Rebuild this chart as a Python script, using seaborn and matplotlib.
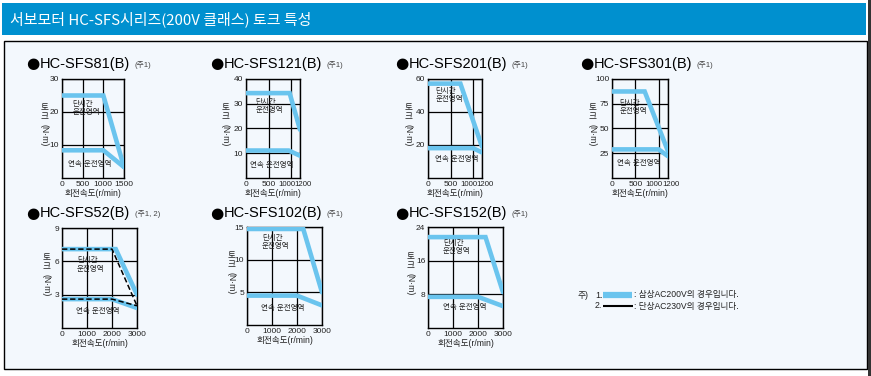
import matplotlib
matplotlib.use("Agg")
import matplotlib.pyplot as plt
import matplotlib.transforms as mtransforms
import seaborn as sns
import pandas as pd
from matplotlib.patches import Rectangle
from matplotlib.lines import Line2D

sns.set_style("white")
plt.rcParams['font.family'] = ['Liberation Sans', 'Noto Sans CJK KR', 'DejaVu Sans']

# ---------------- data ----------------
header_title = "서보모터 HC-SFS시리즈(200V 클래스) 토크 특성"
models = ["HC-SFS81(B)", "HC-SFS121(B)", "HC-SFS201(B)", "HC-SFS301(B)",
          "HC-SFS52(B)", "HC-SFS102(B)", "HC-SFS152(B)"]
notes = ["(주1)", "(주1)", "(주1)", "(주1)", "(주1, 2)", "(주1)", "(주1)"]

sfs81_short_speed = [0, 1000, 1500]
sfs81_short_torque = [25.0, 25.0, 3.3]
sfs81_cont_speed = [0, 1000, 1500]
sfs81_cont_torque = [8.4, 8.4, 3.3]

sfs121_short_speed = [0, 970, 1200]
sfs121_short_torque = [34.3, 34.3, 19.5]
sfs121_cont_speed = [0, 950, 1200]
sfs121_cont_torque = [11.1, 11.1, 9.0]

sfs201_short_speed = [0, 720, 1200]
sfs201_short_torque = [57.2, 57.2, 19.0]
sfs201_cont_speed = [0, 1000, 1200]
sfs201_cont_torque = [18.1, 18.1, 15.5]

sfs301_short_speed = [0, 700, 1200]
sfs301_short_torque = [87.4, 87.4, 27.0]
sfs301_cont_speed = [0, 1000, 1200]
sfs301_cont_torque = [28.9, 28.9, 22.0]

sfs52_short_speed = [0, 2150, 3000]
sfs52_short_torque = [7.1, 7.1, 3.0]
sfs52_cont_speed = [0, 2000, 3000]
sfs52_cont_torque = [2.6, 2.6, 1.8]
sfs52_short1ph_speed = [0, 2000, 3000]
sfs52_short1ph_torque = [7.1, 7.1, 2.0]
sfs52_cont1ph_speed = [0, 2000, 3000]
sfs52_cont1ph_torque = [2.6, 2.6, 2.0]

sfs102_short_speed = [0, 2250, 3000]
sfs102_short_torque = [14.7, 14.7, 5.0]
sfs102_cont_speed = [0, 2000, 3000]
sfs102_cont_torque = [4.5, 4.5, 3.0]

sfs152_short_speed = [0, 2300, 3000]
sfs152_short_torque = [21.6, 21.6, 8.5]
sfs152_cont_speed = [0, 2000, 3000]
sfs152_cont_torque = [7.4, 7.4, 5.2]

x_ticks_top = [[0, 500, 1000, 1500], [0, 500, 1000, 1200],
               [0, 500, 1000, 1200], [0, 500, 1000, 1200]]
x_ticks_bottom = [0, 1000, 2000, 3000]
y_ticks = [[10, 20, 30], [10, 20, 30, 40], [20, 40, 60], [25, 50, 75, 100],
           [3, 6, 9], [5, 10, 15], [8, 16, 24]]

short_label = "단시간\n운전영역"
cont_label = "연속 운전영역"
x_label = "회전속도(r/min)"
legend_lines = [": 삼상AC200V의 경우입니다.", ": 단상AC230V의 경우입니다."]

# ---------------- layout ----------------
W, H = 871, 376
fig = plt.figure(figsize=(W / 100, H / 100), dpi=100)
fig.patch.set_facecolor("white")
BLUE = "#6ac4ee"
HEAD = "#0090cf"
PANEL = "#f3f8fd"
TXT = "#222222"
NARROW = ['Liberation Sans Narrow', 'Liberation Sans', 'DejaVu Sans']


def fx(x):
    return x / W


def fy(y):
    return 1 - y / H


fig.add_artist(Rectangle((fx(2), fy(35)), fx(864), 32 / H, transform=fig.transFigure,
                         facecolor=HEAD, edgecolor="none", zorder=0))
fig.add_artist(Rectangle((fx(3.5), fy(369)), fx(863), 328 / H, transform=fig.transFigure,
                         facecolor=PANEL, edgecolor="black", lw=1.0, zorder=0))
fig.add_artist(Rectangle((fx(867.5), 0), fx(4), 1, transform=fig.transFigure,
                         facecolor="#333333", edgecolor="none", zorder=0))
fig.text(fx(10), fy(19), header_title, color="white", fontsize=10.8,
         family=['Noto Sans CJK KR', 'DejaVu Sans'], va="center", ha="left")

boxes = [(62, 79, 124, 178), (246, 79, 300, 178), (428, 79, 482, 178), (612, 79, 668, 178),
         (62, 228, 137, 328), (247, 227, 322, 325), (428, 227, 503, 328)]
title_pos = [(26, 64), (210, 64), (395, 64), (580, 64), (26, 213), (210, 213), (395, 213)]
ylab_off = [18, 21, 20, 20, 16, 16, 18]
short_txt_pos = [(0.17, 0.70), (0.17, 0.72), (0.14, 0.83), (0.14, 0.71),
                 (0.20, 0.63), (0.20, 0.84), (0.20, 0.80)]
cont_txt_pos = [(0.45, 0.14), (0.48, 0.13), (0.53, 0.19), (0.47, 0.15),
                (0.48, 0.16), (0.48, 0.17), (0.49, 0.20)]

series = [
    [(sfs81_short_speed, sfs81_short_torque, "solid"), (sfs81_cont_speed, sfs81_cont_torque, "solid")],
    [(sfs121_short_speed, sfs121_short_torque, "solid"), (sfs121_cont_speed, sfs121_cont_torque, "solid")],
    [(sfs201_short_speed, sfs201_short_torque, "solid"), (sfs201_cont_speed, sfs201_cont_torque, "solid")],
    [(sfs301_short_speed, sfs301_short_torque, "solid"), (sfs301_cont_speed, sfs301_cont_torque, "solid")],
    [(sfs52_short_speed, sfs52_short_torque, "solid"), (sfs52_cont_speed, sfs52_cont_torque, "solid"),
     (sfs52_short1ph_speed, sfs52_short1ph_torque, "dash"), (sfs52_cont1ph_speed, sfs52_cont1ph_torque, "dash")],
    [(sfs102_short_speed, sfs102_short_torque, "solid"), (sfs102_cont_speed, sfs102_cont_torque, "solid")],
    [(sfs152_short_speed, sfs152_short_torque, "solid"), (sfs152_cont_speed, sfs152_cont_torque, "solid")],
]

for i, (l, t, r, b) in enumerate(boxes):
    ax = fig.add_axes([fx(l), fy(b), (r - l) / W, (b - t) / H])
    ax.set_facecolor(PANEL)
    for sx, sy, kind in series[i]:
        df = pd.DataFrame({"speed": sx, "torque": sy})
        if kind == "solid":
            sns.lineplot(data=df, x="speed", y="torque", ax=ax, color=BLUE, lw=3.3,
                         sort=False, estimator=None, solid_joinstyle="miter", zorder=3)
        else:
            sns.lineplot(data=df, x="speed", y="torque", ax=ax, color="black", lw=1.1,
                         sort=False, estimator=None, linestyle=(0, (3.5, 1.8)), zorder=4)
    xt = x_ticks_top[i] if i < 4 else x_ticks_bottom
    ax.set_xlim(0, xt[-1])
    ax.set_ylim(0, y_ticks[i][-1])
    ax.set_xticks(xt)
    ax.set_xticklabels([str(v) for v in xt], family=NARROW)
    ax.set_yticks(y_ticks[i])
    ax.set_yticklabels([str(v) for v in y_ticks[i]], family=NARROW)
    ax.tick_params(length=0, labelsize=6, pad=2, colors=TXT)
    if xt[-1] == 1200:
        labs = ax.get_xticklabels()
        labs[2].set_horizontalalignment("right")
        labs[2].set_transform(labs[2].get_transform() +
                              mtransforms.ScaledTranslation(4 / 100, 0, fig.dpi_scale_trans))
        labs[3].set_horizontalalignment("left")
        labs[3].set_transform(labs[3].get_transform() +
                              mtransforms.ScaledTranslation(-6 / 100, 0, fig.dpi_scale_trans))
        for lb in labs[2:]:
            lb.set_fontsize(5.6)
    ax.grid(True, color="black", lw=0.9, zorder=1)
    ax.set_axisbelow(True)
    for s in ax.spines.values():
        s.set_color("black")
        s.set_linewidth(1.0)
    ax.set_xlabel(x_label, fontsize=6.2, labelpad=1, color=TXT)
    ax.set_ylabel("")
    ax.text(*short_txt_pos[i], short_label, transform=ax.transAxes, fontsize=5.4,
            ha="left", va="center", linespacing=1.25, color=TXT, zorder=5)
    ax.text(*cont_txt_pos[i], cont_label, transform=ax.transAxes, fontsize=5.4,
            ha="center", va="center", color=TXT, zorder=5)
    # title
    tx, ty = title_pos[i]
    bul = fig.text(fx(tx), fy(ty), "●", fontsize=11, va="center", ha="left",
                   color="black", family=['DejaVu Sans'])
    fig.canvas.draw()
    bb = bul.get_window_extent()
    tt = fig.text(bb.x1 / W, fy(ty), models[i], fontsize=10.5, va="center", ha="left",
                  color="black")
    fig.canvas.draw()
    bb = tt.get_window_extent()
    fig.text(bb.x1 / W + fx(5), fy(ty + 1), notes[i], fontsize=5.6, va="center",
             ha="left", color="#444444")
    # stacked y label
    cy = (t + b) / 2
    ylx = l - ylab_off[i]
    fig.text(fx(ylx), fy(cy - 16), "토\n크", fontsize=6.2, ha="center", va="center",
             linespacing=0.95, color=TXT)
    fig.text(fx(ylx), fy(cy + 7), "(N·m)", fontsize=6.2, ha="center", va="center",
             rotation=-90, color=TXT)

# legend notes
fig.text(fx(578), fy(295), "주)", fontsize=6.3, ha="left", va="center", color=TXT)
fig.text(fx(595), fy(295), "1.", fontsize=6.3, ha="left", va="center", color=TXT)
fig.text(fx(595), fy(306), "2.", fontsize=6.3, ha="left", va="center", color=TXT)
fig.add_artist(Line2D([fx(603), fx(632)], [fy(295), fy(295)], color=BLUE, lw=4.5,
                      transform=fig.transFigure, solid_capstyle="butt"))
fig.add_artist(Line2D([fx(603), fx(633)], [fy(306), fy(306)], color="black", lw=1.5,
                      linestyle=(0, (16, 2, 4, 2)), transform=fig.transFigure))
fig.text(fx(634), fy(295), legend_lines[0], fontsize=6.2, ha="left", va="center", color=TXT)
fig.text(fx(634), fy(306), legend_lines[1], fontsize=6.2, ha="left", va="center", color=TXT)

fig.savefig("out.png", dpi=100, facecolor="white")
